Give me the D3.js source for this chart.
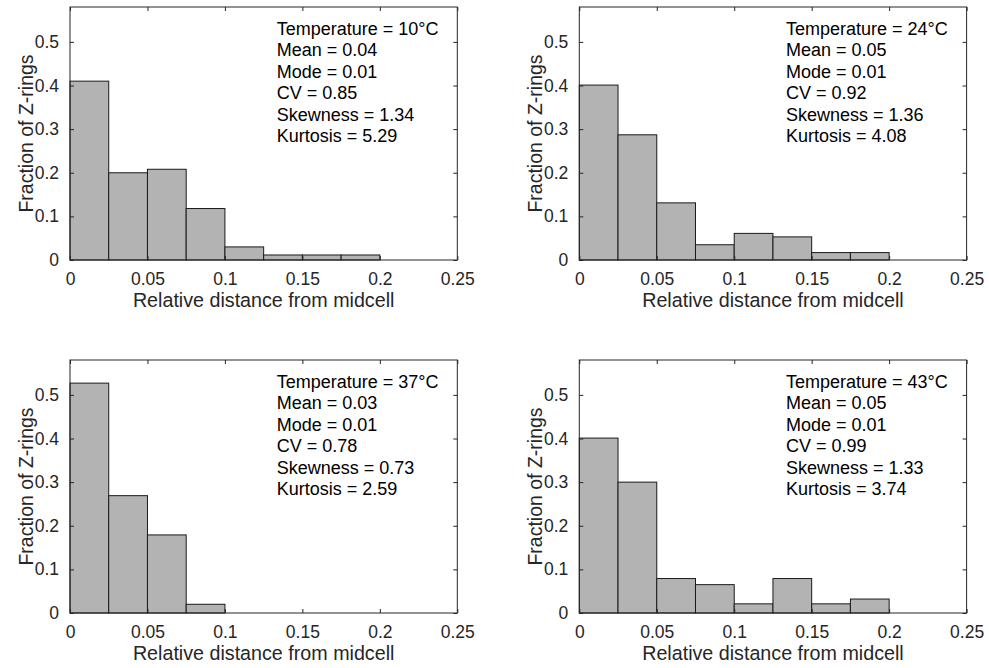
<!DOCTYPE html>
<html>
<head>
<meta charset="utf-8">
<script src="https://cdn.jsdelivr.net/npm/d3@7"></script>
<style>
  html, body { margin: 0; padding: 0; background: #fff; }
  svg { display: block; font-family: "Liberation Sans", Arial, Helvetica, sans-serif; }
</style>
</head>
<body>
<svg id="chart" width="989" height="668"></svg>
<script>
// Histogram bin edges (relative distance from midcell)
const binEdges = [0, 0.025, 0.05, 0.075, 0.1, 0.125, 0.15, 0.175, 0.2, 0.225, 0.25];

// Fraction of Z-rings per bin, one array per temperature
const frac10 = [0.410, 0.200, 0.208, 0.118, 0.030, 0.0115, 0.0115, 0.0115, 0, 0];
const frac24 = [0.401, 0.287, 0.131, 0.035, 0.061, 0.053, 0.017, 0.017, 0, 0];
const frac37 = [0.527, 0.269, 0.179, 0.020, 0, 0, 0, 0, 0, 0];
const frac43 = [0.401, 0.300, 0.079, 0.065, 0.021, 0.079, 0.021, 0.032, 0, 0];

// Summary statistics shown in each panel
const temperatures = [10, 24, 37, 43];
const means = ["0.04", "0.05", "0.03", "0.05"];
const modes = ["0.01", "0.01", "0.01", "0.01"];
const cvs = ["0.85", "0.92", "0.78", "0.99"];
const skewness = ["1.34", "1.36", "0.73", "1.33"];
const kurtosis = ["5.29", "4.08", "2.59", "3.74"];

// Axis ticks
const xTicks = [0, 0.05, 0.1, 0.15, 0.2, 0.25];
const yTicks = [0, 0.1, 0.2, 0.3, 0.4, 0.5];

const xLabel = "Relative distance from midcell";
const yLabel = "Fraction of Z-rings";

const series = [frac10, frac24, frac37, frac43];

const svg = d3.select("#chart");
const axisColor = "#262626";

// Panel frames: [left, top] of each axes box
const panelOrigins = [[70, 7], [579.3, 7], [70, 360], [579.3, 360]];
const plotW = 387.3, plotH = 253;

const fmt = d => (d === 0 ? "0" : String(d));

series.forEach((vals, i) => {
  const [px, py] = panelOrigins[i];
  const g = svg.append("g").attr("transform", `translate(${px},${py})`);

  const x = d3.scaleLinear().domain([0, 0.25]).range([0, plotW]);
  const y = d3.scaleLinear().domain([0, 0.58]).range([plotH, 0]);

  // bars
  const bins = vals.map((v, k) => ({ x0: binEdges[k], x1: binEdges[k + 1], v }))
                   .filter(b => b.v > 0);
  g.selectAll("rect.bar").data(bins).join("rect")
    .attr("class", "bar")
    .attr("x", d => x(d.x0))
    .attr("y", d => y(d.v))
    .attr("width", d => x(d.x1) - x(d.x0))
    .attr("height", d => y(0) - y(d.v))
    .attr("fill", "#b3b3b3")
    .attr("stroke", "#1a1a1a")
    .attr("stroke-width", 1);

  // axes with inward ticks on all four sides
  const tickLen = 4;
  const styleAxis = (sel, showLabels) => {
    sel.select(".domain").remove();
    sel.selectAll(".tick line").attr("stroke", axisColor);
    sel.selectAll(".tick text")
      .attr("fill", axisColor)
      .style("font-size", "17.5px")
      .style("display", showLabels ? null : "none");
  };

  const bottom = g.append("g").attr("transform", `translate(0,${plotH})`)
    .call(d3.axisBottom(x).tickValues(xTicks).tickFormat(fmt).tickSizeInner(-tickLen).tickSizeOuter(0).tickPadding(10));
  styleAxis(bottom, true);
  bottom.selectAll(".tick text").attr("dy", "0.71em").attr("y", 13);

  const top = g.append("g")
    .call(d3.axisTop(x).tickValues(xTicks).tickSizeInner(-tickLen).tickSizeOuter(0));
  styleAxis(top, false);

  const left = g.append("g")
    .call(d3.axisLeft(y).tickValues(yTicks).tickFormat(fmt).tickSizeInner(-tickLen).tickSizeOuter(0).tickPadding(11));
  styleAxis(left, true);

  const right = g.append("g").attr("transform", `translate(${plotW},0)`)
    .call(d3.axisRight(y).tickValues(yTicks).tickSizeInner(-tickLen).tickSizeOuter(0));
  styleAxis(right, false);

  // box
  g.append("rect")
    .attr("x", 0).attr("y", 0).attr("width", plotW).attr("height", plotH)
    .attr("fill", "none").attr("stroke", axisColor).attr("stroke-width", 1);

  // axis labels
  g.append("text")
    .attr("x", plotW / 2).attr("y", plotH + 47)
    .attr("text-anchor", "middle")
    .attr("fill", axisColor)
    .style("font-size", "19.7px")
    .text(xLabel);

  g.append("text")
    .attr("transform", `translate(${-37},${plotH / 2}) rotate(-90)`)
    .attr("text-anchor", "middle")
    .attr("fill", axisColor)
    .style("font-size", "19.5px")
    .text(yLabel);

  // statistics annotation
  const lines = [
    `Temperature = ${temperatures[i]}°C`,
    `Mean = ${means[i]}`,
    `Mode = ${modes[i]}`,
    `CV = ${cvs[i]}`,
    `Skewness = ${skewness[i]}`,
    `Kurtosis = ${kurtosis[i]}`
  ];
  const ann = g.append("text")
    .attr("x", 206.7).attr("y", 27.5)
    .attr("fill", "#000")
    .style("font-size", "18px");
  ann.selectAll("tspan").data(lines).join("tspan")
    .attr("x", 206.7)
    .attr("dy", (d, k) => (k === 0 ? 0 : 21.5))
    .text(d => d);
});
</script>
</body>
</html>
